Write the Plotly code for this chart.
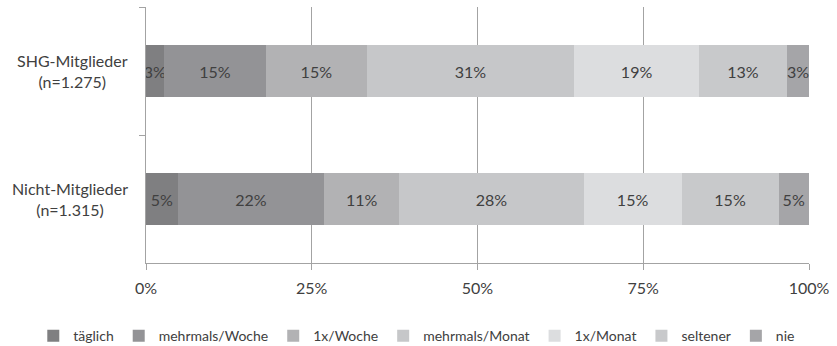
import plotly.graph_objects as go

groups = ["SHG-Mitglieder", "Nicht-Mitglieder"]
group_labels = ["SHG-Mitglieder<br>(n=1.275)", "Nicht-Mitglieder<br>(n=1.315)"]
series = ["täglich", "mehrmals/Woche", "1x/Woche", "mehrmals/Monat", "1x/Monat", "seltener", "nie"]
values = {
    "täglich":        [2.7, 4.8],
    "mehrmals/Woche": [15.4, 22.1],
    "1x/Woche":       [15.2, 11.3],
    "mehrmals/Monat": [31.3, 27.8],
    "1x/Monat":       [18.8, 14.8],
    "seltener":       [13.3, 14.6],
    "nie":            [3.3, 4.6],
}
colors = ["#7f7f81", "#939396", "#b2b2b4", "#c6c7c9", "#dcdddf", "#c8c9cb", "#a5a5a8"]
x_ticks = [0, 25, 50, 75, 100]
x_ticklabels = ["0%", "25%", "50%", "75%", "100%"]

FONT = "Lato"
TXT = "#404040"
LINE = "#a3a3a3"

fig = go.Figure()
for name, col in zip(series, colors):
    fig.add_trace(go.Bar(
        y=groups, x=values[name], name=name, orientation="h",
        marker=dict(color=col, line=dict(width=0)),
        texttemplate="%{x:.0f}%", textposition="inside",
        insidetextanchor="middle", textangle=0,
        textfont=dict(family=FONT, size=16, color=TXT),
    ))

for g, lab in zip(groups, group_labels):
    fig.add_annotation(x=0, xref="paper", y=g, yref="y", text=lab,
                       showarrow=False, xanchor="right", xshift=-16,
                       align="center", font=dict(family=FONT, size=16, color=TXT))

fig.update_layout(
    width=837, height=346,
    margin=dict(l=146, r=28, t=7, b=83, autoexpand=False),
    barmode="stack", bargap=0.59,
    paper_bgcolor="white", plot_bgcolor="white",
    font=dict(family=FONT, size=16, color=TXT),
    uniformtext=dict(minsize=16, mode="show"),
    showlegend=True,
    legend=dict(orientation="h", xref="paper", yref="paper",
                x=-0.17, xanchor="left", y=-0.286, yanchor="middle",
                traceorder="normal",
                font=dict(family=FONT, size=14, color=TXT),
                itemwidth=30, tracegroupgap=0),
    xaxis=dict(range=[0, 100], tickvals=x_ticks, ticktext=x_ticklabels,
               showgrid=True, gridcolor=LINE, gridwidth=1.3,
               showline=True, linecolor=LINE, linewidth=1.3,
               ticks="outside", ticklen=6, tickcolor=LINE, tickwidth=1.3,
               ticklabelstandoff=5, zeroline=False, fixedrange=True),
    yaxis=dict(autorange="reversed", showticklabels=False,
               showline=True, linecolor=LINE, linewidth=1.3,
               ticks="outside", tickson="boundaries", ticklen=6,
               tickcolor=LINE, tickwidth=1.3, showgrid=False),
)

fig.write_html("out.html")
